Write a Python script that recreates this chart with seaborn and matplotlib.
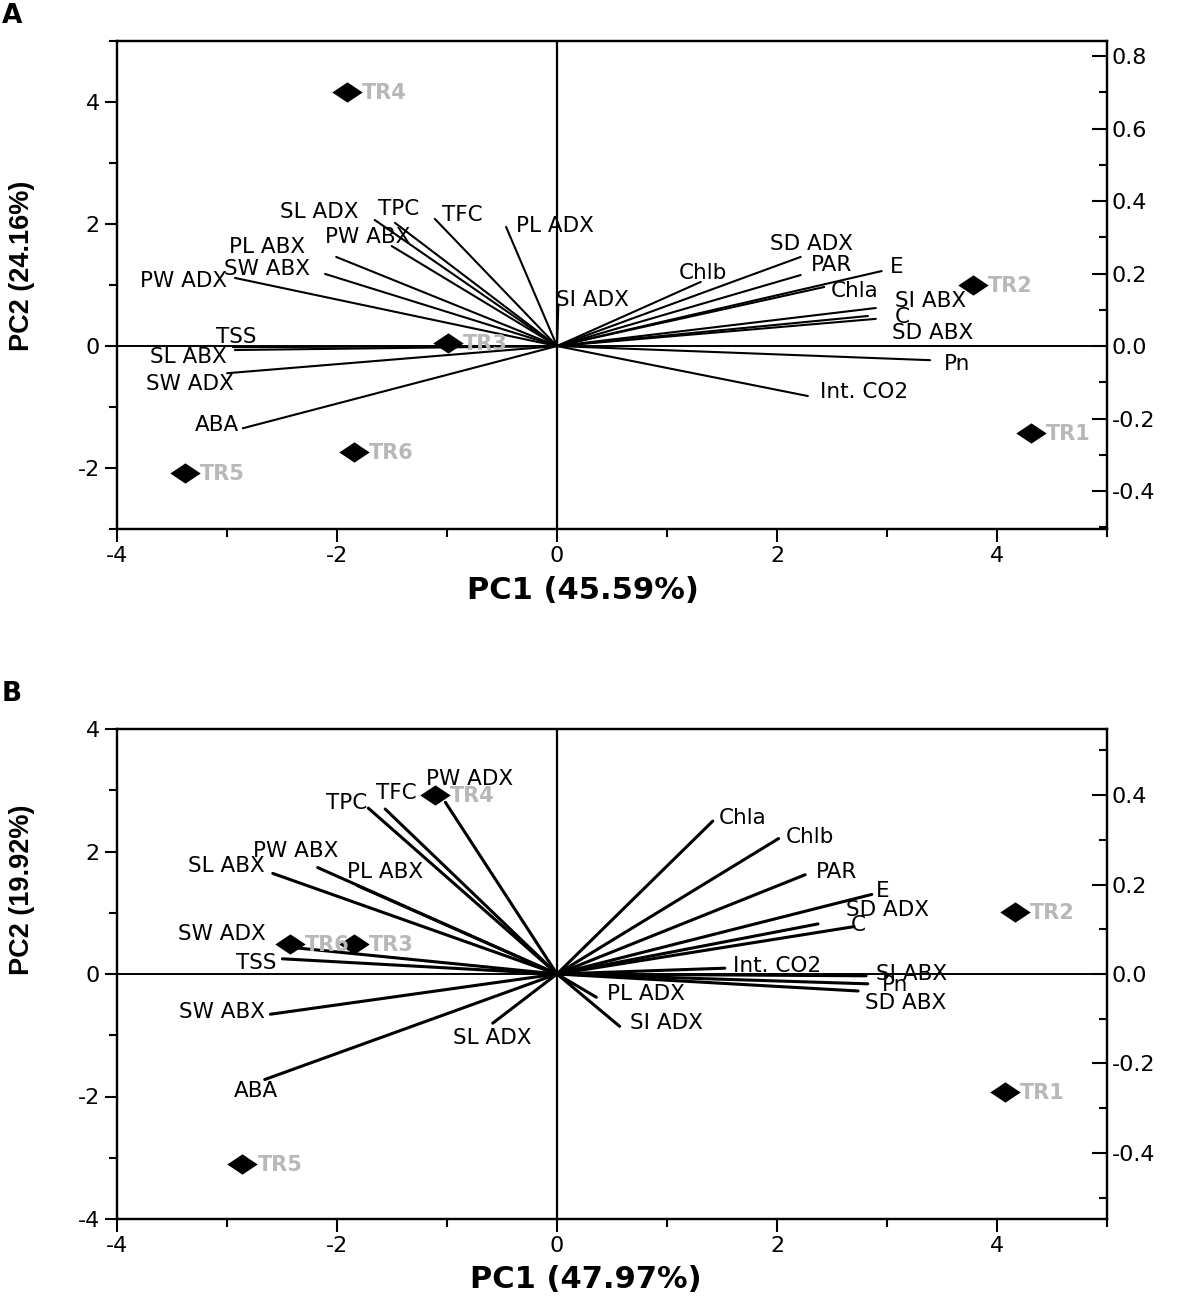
import numpy as np
import pandas as pd
import matplotlib
matplotlib.use("Agg")
import matplotlib.pyplot as plt
import seaborn as sns
from matplotlib.ticker import MultipleLocator, FormatStrFormatter
from matplotlib.markers import MarkerStyle

# scores (treatments)
treat = ['TR1', 'TR2', 'TR3', 'TR4', 'TR5', 'TR6']
a_pc1 = [4.31, 3.78, -0.99, -1.91, -3.38, -1.85]
a_pc2 = [-1.43, 1.00, 0.05, 4.16, -2.08, -1.74]
b_pc1 = [4.07, 4.16, -1.85, -1.11, -2.86, -2.43]
b_pc2 = [-1.92, 1.02, 0.49, 2.92, -3.10, 0.49]

# loadings (variables)
var_names = ['SL ADX', 'TPC', 'TFC', 'PL ADX', 'PW ABX', 'PL ABX', 'SW ABX', 'PW ADX',
             'SI ADX', 'TSS', 'SL ABX', 'SW ADX', 'ABA', 'Chlb', 'SD ADX', 'PAR', 'E',
             'Chla', 'SI ABX', 'C', 'SD ABX', 'Pn', 'Int. CO2']
a_load1 = [-0.279, -0.248, -0.187, -0.078, -0.253, -0.338, -0.355, -0.493,
           0.002, -0.496, -0.493, -0.505, -0.481, 0.220, 0.373, 0.373, 0.497,
           0.409, 0.488, 0.476, 0.488, 0.571, 0.384]
a_load2 = [0.348, 0.340, 0.351, 0.329, 0.276, 0.246, 0.199, 0.188,
           0.113, -0.003, -0.011, -0.075, -0.227, 0.177, 0.246, 0.196, 0.207,
           0.163, 0.105, 0.083, 0.075, -0.039, -0.138]
b_load1 = [-0.080, -0.235, -0.214, 0.049, -0.298, -0.249, -0.357, -0.139,
           0.078, -0.342, -0.354, -0.339, -0.364, 0.276, 0.325, 0.309, 0.392,
           0.194, 0.385, 0.370, 0.375, 0.387, 0.209]
b_load2 = [-0.110, 0.371, 0.369, -0.052, 0.238, 0.198, -0.090, 0.384,
           -0.117, 0.034, 0.225, 0.061, -0.236, 0.303, 0.112, 0.222, 0.178,
           0.342, -0.004, 0.106, -0.038, -0.022, 0.013]

# label nudges (pixels) from line ends
a_nudge = {'SL ADX': (-55, 8), 'TPC': (4, 14), 'TFC': (27, 4), 'PL ADX': (49, 1),
           'PW ABX': (-24, 9), 'PL ABX': (-69, 10), 'SW ABX': (-58, 5), 'PW ADX': (-51, -3),
           'SI ADX': (34, 5), 'TSS': (3, 10), 'SL ABX': (-47, -7), 'SW ADX': (-37, -11),
           'ABA': (-26, 3), 'Chlb': (2, 9), 'SD ADX': (11, 13), 'PAR': (31, 10), 'E': (15, 4),
           'Chla': (30, -4), 'SI ABX': (55, 7), 'C': (34, -1), 'SD ABX': (57, -14),
           'Pn': (27, -4), 'Int. CO2': (56, 4)}
b_nudge = {'SL ADX': (-1, -15), 'TPC': (-22, 5), 'TFC': (11, 16), 'PL ADX': (50, 3),
           'PW ABX': (-22, 17), 'PL ABX': (28, 13), 'SW ABX': (-48, 2), 'PW ADX': (24, 23),
           'SI ADX': (47, 3), 'TSS': (-26, -4), 'SL ABX': (-46, 7), 'SW ADX': (-63, 13),
           'ABA': (-9, -11), 'Chlb': (31, 2), 'SD ADX': (70, 14), 'PAR': (31, 3), 'E': (11, 3),
           'Chla': (30, 3), 'SI ABX': (45, 2), 'C': (4, 2), 'SD ABX': (48, -12),
           'Pn': (27, -1), 'Int. CO2': (52, 2)}

sns.set_style('ticks')
plt.rcParams['font.family'] = ['DejaVu Sans']
plt.rcParams['axes.unicode_minus'] = False
for key in ('text.color', 'axes.labelcolor', 'xtick.color', 'ytick.color', 'axes.edgecolor'):
    plt.rcParams[key] = 'black'

diamond = MarkerStyle([(-1.5, 0), (0, 1), (1.5, 0), (0, -1), (-1.5, 0)])


def biplot(fig, rect, pc1, pc2, load1, load2, nudge, ylim, lylim, xlabel, ylabel,
           xlab_pos, ylab_pos, lw):
    ax = fig.add_axes(rect)
    axr = ax.twinx()
    axl = axr.twiny()

    xlim = (-4, 5)
    k = (ylim[1] - ylim[0]) / (lylim[1] - lylim[0])

    # loading vectors
    rows = []
    for n, x, y in zip(var_names, load1, load2):
        rows.append({'var': n, 'x': 0.0, 'y': 0.0})
        rows.append({'var': n, 'x': x, 'y': y})
    ld = pd.DataFrame(rows)
    sns.lineplot(data=ld, x='x', y='y', units='var', estimator=None, sort=False,
                 color='black', lw=lw, ax=axl, legend=False)
    for n, x, y in zip(var_names, load1, load2):
        dx, dy = nudge[n]
        axl.annotate(n, (x, y), xytext=(dx, dy), textcoords='offset pixels',
                     ha='center', va='center', fontsize=15.5, color='black')
    axl.set_xlim(xlim[0] / k, xlim[1] / k)
    axr.set_ylim(*lylim)
    axl.set_xlabel('')
    axl.set_ylabel('')
    axl.tick_params(top=False, labeltop=False, bottom=False, labelbottom=False)
    for s in axl.spines.values():
        s.set_visible(False)

    # scores
    sc = pd.DataFrame({'t': treat, 'pc1': pc1, 'pc2': pc2})
    ax.axhline(0, color='black', lw=1.4, zorder=1)
    ax.axvline(0, color='black', lw=1.6, zorder=1)
    sns.scatterplot(data=sc, x='pc1', y='pc2', marker=diamond, s=480, color='black',
                    edgecolor='black', linewidth=0, ax=ax, zorder=5)
    for t, x, y in zip(treat, pc1, pc2):
        ax.annotate(t, (x, y), xytext=(15, -1), textcoords='offset pixels',
                    ha='left', va='center', fontsize=15, fontweight='bold',
                    color='#b8b8b8', zorder=6)
    ax.set_xlim(*xlim)
    ax.set_ylim(*ylim)
    ax.set_zorder(3)
    ax.patch.set_visible(False)

    ax.xaxis.set_major_locator(MultipleLocator(2))
    ax.xaxis.set_minor_locator(MultipleLocator(1))
    ax.yaxis.set_major_locator(MultipleLocator(2))
    ax.yaxis.set_minor_locator(MultipleLocator(1))
    ax.tick_params(which='both', direction='out', width=1.5, labelsize=16,
                   right=False, top=False)
    ax.tick_params(which='major', length=9)
    ax.tick_params(which='minor', length=6)

    axr.yaxis.set_major_locator(MultipleLocator(0.2))
    axr.yaxis.set_minor_locator(MultipleLocator(0.1))
    axr.tick_params(which='both', direction='in', width=1.5, labelsize=16)
    axr.tick_params(which='major', length=11)
    axr.tick_params(which='minor', length=6)
    axr.yaxis.set_major_formatter(FormatStrFormatter('%.1f'))

    for a in (ax, axr):
        for s in a.spines.values():
            s.set_linewidth(1.6)

    ax.set_xlabel(xlabel, fontsize=22, fontweight='bold')
    ax.set_ylabel(ylabel, fontsize=19.5, fontweight='bold',
                  family=['Liberation Sans', 'DejaVu Sans'])
    ax.xaxis.set_label_coords(*xlab_pos)
    ax.yaxis.set_label_coords(*ylab_pos)
    return ax


fig = plt.figure(figsize=(11.81, 13), dpi=100)

W, H = 1181, 1300
biplot(fig, [117 / W, 1 - 529 / H, 990 / W, 488 / H], a_pc1, a_pc2, a_load1, a_load2,
       a_nudge, (-3, 5), (-0.505, 0.842), 'PC1 (45.59%)', 'PC2 (24.16%)',
       (0.471, -0.096), (-0.083, 0.539), 1.5)
biplot(fig, [117 / W, 1 - 1219 / H, 990 / W, 490 / H], b_pc1, b_pc2, b_load1, b_load2,
       b_nudge, (-4, 4), (-0.548, 0.548), 'PC1 (47.97%)', 'PC2 (19.92%)',
       (0.474, -0.094), (-0.083, 0.671), 2.2)

fig.text(2 / W, 1 - 16 / H, 'A', fontsize=19, fontweight='bold', va='center', ha='left')
fig.text(2 / W, 1 - 694 / H, 'B', fontsize=19, fontweight='bold', va='center', ha='left')

fig.savefig('out.png', dpi=100)
